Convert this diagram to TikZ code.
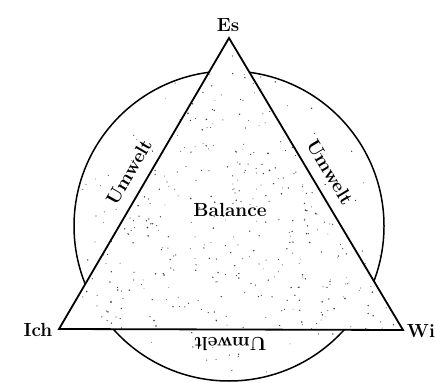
\documentclass[tikz,border=0pt]{standalone}
\usepackage{fontspec}
\setmainfont{Latin Modern Roman}
\begin{document}
\begin{tikzpicture}[x=1pt,y=1pt,
  lbl/.style={font=\fontsize{19}{21}\selectfont\bfseries, inner sep=0pt},
  edge/.style={line width=1.8pt, line join=miter},
  ring/.style={line width=1.5pt},
  dot/.style={fill=black!75}]
\useasboundingbox (0,0) rectangle (435,382);
\coordinate (es) at (229,344);
\coordinate (ich) at (59,53);
\coordinate (wi) at (403,52);
\coordinate (c) at (229,156);
% circle
\draw[ring] (c) circle (155);
% triangle hides circle inside
\fill[white] (es) -- (ich) -- (wi) -- cycle;
% stipple
\pgfmathsetseed{7}
\begin{scope}
  \clip (es) -- (ich) -- (wi) -- cycle;
  \foreach \i in {1,...,480} {
    \pgfmathsetmacro{\px}{59+344*rnd}
    \pgfmathsetmacro{\py}{52+292*rnd}
    \pgfmathsetmacro{\pr}{0.4+0.5*rnd}
    \fill[dot] (\px,\py) circle (\pr);
  }
\end{scope}
\begin{scope}
  \clip (c) circle (155);
  \foreach \i in {1,...,180} {
    \pgfmathsetmacro{\px}{74+310*rnd}
    \pgfmathsetmacro{\py}{1+310*rnd}
    \pgfmathsetmacro{\pr}{0.4+0.4*rnd}
    \fill[dot] (\px,\py) circle (\pr);
  }
\end{scope}
\draw[edge] (es) -- (ich) -- (wi) -- cycle;
% labels
\node[lbl] (tes) at (228,357) {Es};
\node[lbl] (tich) at (38,52) {Ich};
\node[lbl] (twi) at (421,51) {Wi};
\node[lbl] (tbal) at (230,172) {Balance};
\node[lbl, rotate=60] (tuml) at (129,210) {Umwelt};
\node[lbl, rotate=-59] (tumr) at (330,210) {Umwelt};
\node[lbl, rotate=180] (tumb) at (230,38) {Umwelt};
\end{tikzpicture}
\end{document}
